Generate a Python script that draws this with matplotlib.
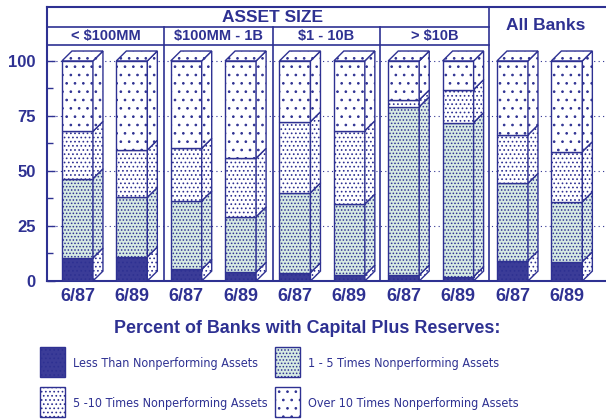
import numpy as np
import matplotlib.pyplot as plt
from matplotlib.patches import Rectangle, Polygon
from matplotlib.ticker import FixedLocator

# data (percent of banks)
bar_labels = ["6/87", "6/89"] * 5
groups = ["< $100MM", "$100MM - 1B", "$1 - 10B", "> $10B"]
less_than = [10.5, 11, 5.3, 4, 3.8, 2.7, 2.7, 2, 9.2, 8.8]
one_to_five = [36, 27, 31.1, 25.2, 36.3, 32.3, 76.5, 70, 35.2, 27.2]
five_to_ten = [21.5, 21.5, 23.9, 26.6, 32.3, 33.3, 3.1, 15, 22, 22.8]
over_ten = [100 - a - b - c for a, b, c in zip(less_than, one_to_five, five_to_ten)]
legend_labels = ["Less Than Nonperforming Assets", "1 - 5 Times Nonperforming Assets",
                 "5 -10 Times Nonperforming Assets", "Over 10 Times Nonperforming Assets"]

navy = "#2e3192"
plt.rcParams['hatch.linewidth'] = 0.7
plt.rcParams['font.family'] = ['Liberation Sans', 'DejaVu Sans']

# fill / hatch per category
styles = [
    dict(face="#3b3c98", side="#ffffff", hatch="...."),
    dict(face="#d6eae2", side="#dcede6", hatch="....."),
    dict(face="#ffffff", side="#ffffff", hatch="...."),
    dict(face="#ffffff", side="#ffffff", hatch=". ."),
]

fig = plt.figure(figsize=(6.06, 4.19), dpi=100)
ax = fig.add_axes([47/606, 138/419, 1 - 47/606, 274/419])
ax.set_xlim(-0.56, 9.72)
ax.set_ylim(0, 124.5)

w = 0.57
dx = 0.184
dy = 4.5

# 3D stacked bars
for i in range(len(bar_labels)):
    vals = [less_than[i], one_to_five[i], five_to_ten[i], over_ten[i]]
    x0 = i - w/2
    b = 0
    for k, v in enumerate(vals):
        t = b + v
        st = styles[k]
        ax.add_patch(Rectangle((x0, b), w, v, facecolor=st["face"], edgecolor=navy,
                               hatch=st["hatch"], lw=1.0, zorder=3))
        side = [(x0 + w, b), (x0 + w + dx, b + dy), (x0 + w + dx, t + dy), (x0 + w, t)]
        ax.add_patch(Polygon(side, closed=True, facecolor=st["side"], edgecolor=navy,
                             hatch=st["hatch"], lw=1.0, zorder=3))
        b = t
    top = [(x0, 100), (x0 + dx, 100 + dy), (x0 + w + dx, 100 + dy), (x0 + w, 100)]
    ax.add_patch(Polygon(top, closed=True, facecolor="white", edgecolor=navy,
                         hatch=". .", lw=1.0, zorder=3))

# gridlines
for g in [25, 50, 75, 100]:
    ax.plot([-0.56, 9.72], [g, g], color=navy, lw=0.8, ls=(0, (1, 3)), zorder=1)

# header boxes
dividers = [1.6, 3.59, 5.57, 7.56]
for d in dividers[:3]:
    ax.plot([d, d], [0, 115.5], color=navy, lw=1.2, zorder=4)
ax.plot([dividers[3], dividers[3]], [0, 124.5], color=navy, lw=1.2, zorder=4)
ax.plot([-0.56, 9.72], [124.3, 124.3], color=navy, lw=1.5, zorder=4, clip_on=False)
ax.plot([-0.56, dividers[3]], [115.5, 115.5], color=navy, lw=1.2, zorder=4)
ax.plot([-0.56, dividers[3]], [107.3, 107.3], color=navy, lw=1.2, zorder=4)

ax.text((-0.56 + dividers[3]) / 2 + 0.08, 119.7, "ASSET SIZE", ha="center", va="center",
        color=navy, fontsize=12.5, fontweight="bold")
edges = [-0.56] + dividers
for j, name in enumerate(groups):
    ax.text((edges[j] + edges[j+1]) / 2, 111.4, name, ha="center", va="center",
            color=navy, fontsize=10.5, fontweight="bold")
ax.text(8.62, 116.2, "All Banks", ha="center", va="center",
        color=navy, fontsize=12.5, fontweight="bold")

# axes
for s in ["top", "right"]:
    ax.spines[s].set_visible(False)
for s in ["left", "bottom"]:
    ax.spines[s].set_color(navy)
    ax.spines[s].set_linewidth(1.5)
ax.yaxis.set_major_locator(FixedLocator([0, 25, 50, 75, 100]))
ax.yaxis.set_minor_locator(FixedLocator([12.5, 37.5, 62.5, 87.5]))
ax.tick_params(axis="y", which="both", direction="in", color=navy, labelcolor=navy,
               labelsize=12, width=1.0)
ax.tick_params(axis="y", which="major", length=6, pad=8)
ax.tick_params(axis="y", which="minor", length=4)
for lab in ax.get_yticklabels():
    lab.set_fontweight("bold")
ax.set_xticks(range(len(bar_labels)))
ax.set_xticklabels(bar_labels, fontsize=13, fontweight="bold", color=navy)
ax.tick_params(axis="x", length=0, pad=5)

# legend
fig.text(307/606, 1 - 328/419, "Percent of Banks with Capital Plus Reserves:", ha="center",
         va="center", color=navy, fontsize=12.9, fontweight="bold")
pos = [(40, 347), (275, 347), (40, 387), (275, 387)]
for k, (px, py) in enumerate(pos):
    st = styles[k]
    fig.patches.append(Rectangle((px/606, 1 - (py + 30)/419), 25/606, 30/419,
                                 transform=fig.transFigure, facecolor=st["face"],
                                 edgecolor=navy, hatch=st["hatch"], lw=1.0))
    fig.text((px + 33)/606, 1 - (py + 16)/419, legend_labels[k], ha="left", va="center",
             color=navy, fontsize=9, family='DejaVu Sans', fontstretch='condensed')

fig.savefig("out.png", dpi=100)
